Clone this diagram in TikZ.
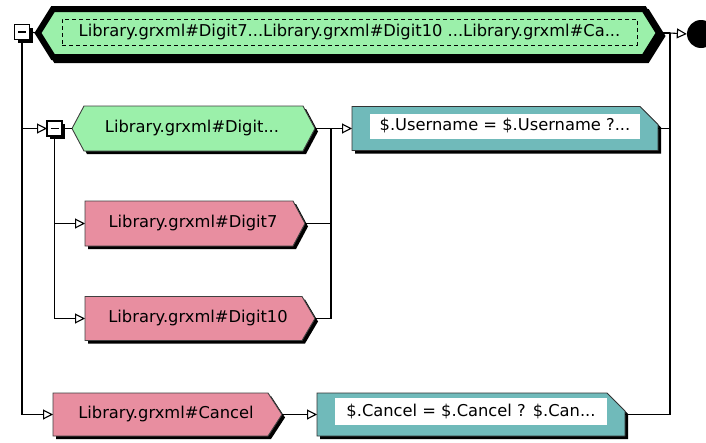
\documentclass[tikz,border=0pt]{standalone}
\usepackage{fontspec}
\setmainfont{DejaVu Sans}
\usetikzlibrary{arrows.meta,calc,backgrounds}
\definecolor{gfill}{RGB}{155,240,170}
\definecolor{pfill}{RGB}{232,142,160}
\definecolor{tfill}{RGB}{112,186,186}
\newcommand{\shhex}[3]{%
  \fill[black] ($(#1.west)+(3,3)$) -- ($(#1.north west)+(#2+3,3)$) -- ($(#1.north east)+(-#2+3,3)$) -- ($(#1.east)+(3,3)$) -- ($(#1.south east)+(-#2+3,3)$) -- ($(#1.south west)+(#2+3,3)$) -- cycle;
  \filldraw[fill=#3, draw=black!75, line width=0.9pt] (#1.west) -- ($(#1.north west)+(#2,0)$) -- ($(#1.north east)+(-#2,0)$) -- (#1.east) -- ($(#1.south east)+(-#2,0)$) -- ($(#1.south west)+(#2,0)$) -- cycle;}
\newcommand{\shpen}[3]{%
  \fill[black] ($(#1.north west)+(3,3)$) -- ($(#1.north east)+(-#2+3,3)$) -- ($(#1.east)+(3,3)$) -- ($(#1.south east)+(-#2+3,3)$) -- ($(#1.south west)+(3,3)$) -- cycle;
  \filldraw[fill=#3, draw=black!75, line width=0.9pt] (#1.north west) -- ($(#1.north east)+(-#2,0)$) -- (#1.east) -- ($(#1.south east)+(-#2,0)$) -- (#1.south west) -- cycle;}
\newcommand{\shact}[2]{%
  \fill[black] ($(#1.north west)+(3,3)$) -- ($(#1.north east)+(-#2+3,3)$) -- ($(#1.north east)+(3,#2+3)$) -- ($(#1.south east)+(3,3)$) -- ($(#1.south west)+(3,3)$) -- cycle;
  \filldraw[fill=tfill, draw=black!80, line width=0.9pt] (#1.north west) -- ($(#1.north east)+(-#2,0)$) -- ($(#1.north east)+(0,#2)$) -- (#1.south east) -- (#1.south west) -- cycle;}
\newcommand{\shminus}[1]{%
  \fill[black] ($(#1.north west)+(3,3)$) rectangle ($(#1.south east)+(3,3)$);
  \filldraw[fill=white, draw=black, line width=1.2pt] (#1.north west) rectangle (#1.south east);
  \draw[line width=1.4pt] ($(#1.center)+(-4,0)$) -- ($(#1.center)+(4,0)$);}
\begin{document}
\begin{tikzpicture}[x=1pt,y=-1pt,
  font=\fontsize{16.3}{19}\selectfont,
  box/.style={rectangle, inner sep=0pt, outer sep=0pt},
  txt/.style={inner sep=0pt, text=black},
  wbox/.style={fill=white, inner sep=0pt, text=black},
  conn/.style={line width=1.1pt},
  arr/.style={conn, -{Triangle[open,length=10pt,width=10pt,line width=1.1pt]}},
]
\useasboundingbox (0,0) rectangle (706,442);

% nodes
\node[box, minimum width=15, minimum height=15] (mb1) at (22,32) {};
\node[box, minimum width=621, minimum height=48] (top) at (348.5,33) {};
\node[box, draw, dashed, dash pattern=on 4pt off 3pt, line width=0.9pt, minimum width=575, minimum height=26] (toptxt) at (349.5,32) {Library.grxml\#Digit7...Library.grxml\#Digit10 ...Library.grxml\#Ca...};
\node[circle, fill=black, minimum size=28, inner sep=0pt] (endc) at (701,34) {};

\node[box, minimum width=15, minimum height=15] (mb2) at (54.5,128.5) {};
\node[box, minimum width=243, minimum height=45] (h2) at (193.5,128.5) {};
\node[txt] (h2t) at (192,128) {Library.grxml\#Digit...};
\node[box, minimum width=306, minimum height=44] (a1) at (505,128.5) {};
\node[wbox, minimum width=270, minimum height=25] (a1t) at (505,126) {\$.Username = \$.Username ?...};

\node[box, minimum width=220, minimum height=45] (d7) at (195,223.5) {};
\node[txt] (d7t) at (193,223) {Library.grxml\#Digit7};
\node[box, minimum width=230, minimum height=44] (d10) at (200,318.5) {};
\node[txt] (d10t) at (198,318) {Library.grxml\#Digit10};

\node[box, minimum width=229, minimum height=43] (c) at (167.5,414.5) {};
\node[txt] (ct) at (166,414) {Library.grxml\#Cancel};
\node[box, minimum width=308, minimum height=43] (a2) at (471,414.5) {};
\node[wbox, minimum width=272, minimum height=27] (a2t) at (471,411.5) {\$.Cancel = \$.Cancel ? \$.Can...};

\coordinate (j1) at (331,128.5);
\coordinate (j2) at (670,33);

% shapes
\begin{scope}[on background layer]
  \fill[white] (0,0) rectangle (706,442);
  \draw[line width=6pt, fill=black] ($(top.west)+(3,3)$) -- ($(top.north west)+(18,3)$) -- ($(top.north east)+(-12,3)$) -- ($(top.east)+(3,3)$) -- ($(top.south east)+(-12,3)$) -- ($(top.south west)+(18,3)$) -- cycle;
  \filldraw[fill=gfill, draw=black, line width=6pt] (top.west) -- ($(top.north west)+(15,0)$) -- ($(top.north east)+(-15,0)$) -- (top.east) -- ($(top.south east)+(-15,0)$) -- ($(top.south west)+(15,0)$) -- cycle;
  \shhex{h2}{12}{gfill}
  \shpen{d7}{12}{pfill}
  \shpen{d10}{13}{pfill}
  \shpen{c}{14}{pfill}
  \shact{a1}{18}
  \shact{a2}{18}
  \shminus{mb1}
  \shminus{mb2}
\end{scope}

% connectors
\draw[conn] (mb1.east) -- (top.west);
\draw[arr] (mb1.south) |- (c.west);
\draw[arr] (mb1.south |- mb2.west) -- (mb2.west);
\draw[conn] (mb2.east) -- (h2.west);
\draw[arr] (mb2.south) |- (d7.west);
\draw[arr] (mb2.south) |- (d10.west);
\draw[conn] (h2.east) -- (j1);
\draw[conn] (d7.east) -- (d7.east -| j1);
\draw[conn] (d10.east) -| (j1);
\draw[arr] (j1) -- (a1.west);
\draw[arr] (c.east) -- (a2.west);
\draw[conn] (top.east) -- (j2);
\draw[arr] (j2) -- (endc.west);
\draw[conn] (a1.east) -| (j2);
\draw[conn] (a2.east) -| (j2);
\end{tikzpicture}
\end{document}
